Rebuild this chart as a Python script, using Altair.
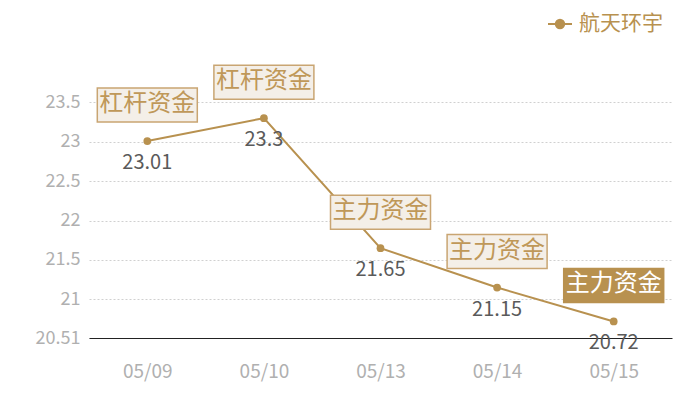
import altair as alt
import pandas as pd

dates = ["05/09", "05/10", "05/13", "05/14", "05/15"]
prices = [23.01, 23.3, 21.65, 21.15, 20.72]
tags = ["杠杆资金", "杠杆资金", "主力资金", "主力资金", "主力资金"]
series = "航天环宇"
y_ticks = [20.51, 21, 21.5, 22, 22.5, 23, 23.5]

df = pd.DataFrame({"date": dates, "price": prices, "tag": tags, "series": series})

TAN = "#b8914f"
BEIGE = "#f4efe8"
BORDER = "#c9a572"
FONT = "Noto Sans CJK SC"

x = alt.X("date:N", sort=dates, title=None,
          scale=alt.Scale(type="point", padding=0.5),
          axis=alt.Axis(labelAngle=0, labelColor="#b0b0b0", labelFontSize=19,
                        labelFont=FONT, ticks=False, domainColor="#222222",
                        domainWidth=1, labelPadding=24, grid=False))
y = alt.Y("price:Q", title=None,
          scale=alt.Scale(domain=[20.51, 24.0], nice=False, zero=False),
          axis=alt.Axis(values=y_ticks, labelColor="#b0b0b0", labelFontSize=18,
                        labelFont=FONT, ticks=False, domain=False, labelPadding=9,
                        grid=True, gridColor="#d0d0d0", gridDash=[2, 2],
                        format=".4~g"))

base = alt.Chart(df)

legend_shape = "M-1,0L1,0M-0.35,0A0.35,0.35,0,1,0,0.35,0A0.35,0.35,0,1,0,-0.35,0Z"

line = base.mark_line(strokeWidth=2).encode(
    x=x, y=y,
    color=alt.Color("series:N", title=None,
                    scale=alt.Scale(range=[TAN]),
                    legend=alt.Legend(orient="none", legendX=458, legendY=-52,
                                      symbolType=legend_shape, symbolSize=576,
                                      symbolStrokeWidth=2, symbolFillColor=TAN,
                                      labelFontSize=21, labelColor=TAN,
                                      labelFont=FONT, labelOffset=6)),
)

dots = base.mark_circle(size=60, color=TAN, opacity=1).encode(x="date:N", y="price:Q")

box_shape = "M-1,-1.06L1,-1.06L1,-0.38L-1,-0.38Z"
is_last = alt.datum.date == "05/15"

boxes = base.mark_point(shape=box_shape, size=10000, filled=True,
                        strokeWidth=1.5, opacity=1).encode(
    x="date:N", y="price:Q",
    fill=alt.condition(is_last, alt.value(TAN), alt.value(BEIGE)),
    stroke=alt.condition(is_last, alt.value(TAN), alt.value(BORDER)),
)

box_text = base.mark_text(dy=-37, fontSize=24, font=FONT, baseline="middle").encode(
    x="date:N", y="price:Q", text="tag:N",
    color=alt.condition(is_last, alt.value("#ffffff"), alt.value("#bf9859")),
)

value_text = base.mark_text(dy=22, fontSize=20, font=FONT, color="#5a5a5a",
                            baseline="middle").encode(
    x="date:N", y="price:Q", text=alt.Text("price:Q", format="~g"),
)

chart = alt.layer(line, dots, boxes, box_text, value_text).properties(
    width=583, height=275,
    autosize=alt.AutoSizeParams(type="none"),
    padding={"left": 81, "top": 55, "right": 20, "bottom": 50},
).configure_view(stroke=None)

chart.save("out.html", embed_options={"renderer": "svg", "actions": False})
